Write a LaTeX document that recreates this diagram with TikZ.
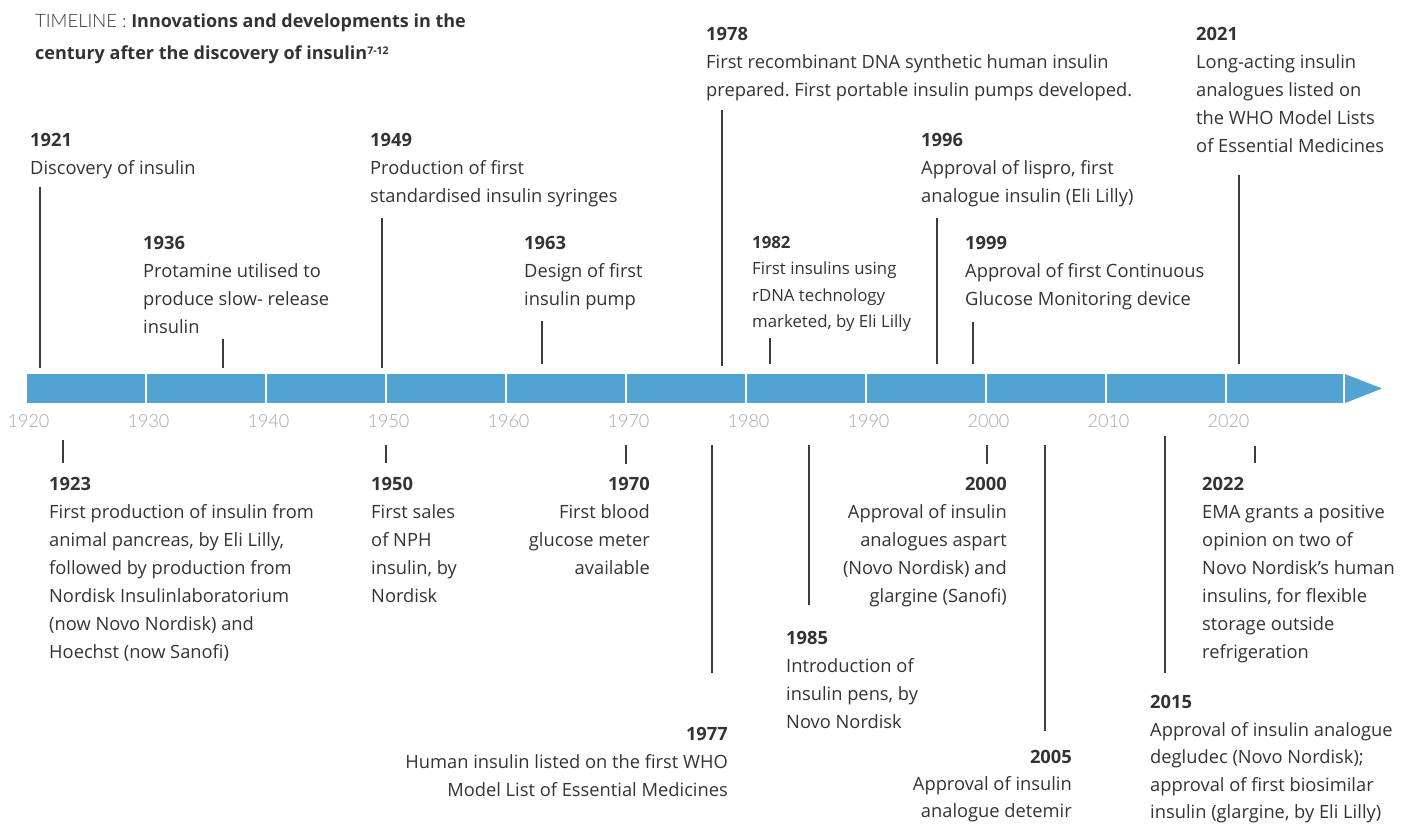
\documentclass[tikz,border=0pt]{standalone}
\usepackage{fontspec}
\setmainfont{Open Sans}
\newfontfamily\lightfont{Lato Light}
\usepackage{tikz}
\usetikzlibrary{positioning}
\frenchspacing
\definecolor{barblue}{RGB}{82,163,210}
\definecolor{txtgrey}{RGB}{51,51,51}
\definecolor{axisgrey}{RGB}{165,165,165}
\definecolor{tickgrey}{RGB}{60,60,60}
\tikzstyle{event} = [inner sep=0pt, align=left, anchor=north west, text=txtgrey, font=\fontsize{18.3}{28}\selectfont]
\tikzstyle{eventr} = [event, align=right, anchor=north east]
\tikzstyle{small} = [font=\fontsize{16.8}{26.5}\selectfont]
\tikzstyle{title} = [inner sep=0pt, align=left, anchor=north west, text=txtgrey, font=\fontsize{18}{32}\selectfont]
\tikzstyle{yearlab} = [inner sep=0pt, text=axisgrey, font=\lightfont\fontsize{18}{20}\selectfont]
\tikzstyle{seg} = [fill=barblue]
\tikzstyle{tick} = [draw=tickgrey, line width=1.1pt]

\begin{document}
\begin{tikzpicture}[x=1pt, y=-1pt]
        \useasboundingbox (0,0) rectangle (1407,823);

        % Title
        \node (title) [title] at (35,14) {{\lightfont\fontsize{18.5}{32}\selectfont TIMELINE :} \textbf{Innovations and developments in the}\\\textbf{century after the discovery of insulin}\raisebox{5.5pt}{\fontsize{10.5}{10.5}\selectfont\bfseries 7-12}};

        % Bar
        \fill[seg] (27,374) rectangle (145,403);
        \fill[seg] (147,374) rectangle (265,403);
        \fill[seg] (267,374) rectangle (385,403);
        \fill[seg] (387,374) rectangle (505,403);
        \fill[seg] (507,374) rectangle (625,403);
        \fill[seg] (627,374) rectangle (745,403);
        \fill[seg] (747,374) rectangle (865,403);
        \fill[seg] (867,374) rectangle (985,403);
        \fill[seg] (987,374) rectangle (1105,403);
        \fill[seg] (1107,374) rectangle (1225,403);
        \fill[seg] (1227,374) rectangle (1343,403);
        \fill[seg] (1345,374) -- (1382,388.5) -- (1345,403) -- cycle;

        % Decades
        \node (d1920) [yearlab] at (28.5,421) {1920};
        \node (d1930) [yearlab] at (148.5,421) {1930};
        \node (d1940) [yearlab] at (268.5,421) {1940};
        \node (d1950) [yearlab] at (388.5,421) {1950};
        \node (d1960) [yearlab] at (508.5,421) {1960};
        \node (d1970) [yearlab] at (628.5,421) {1970};
        \node (d1980) [yearlab] at (748.5,421) {1980};
        \node (d1990) [yearlab] at (868.5,421) {1990};
        \node (d2000) [yearlab] at (988.5,421) {2000};
        \node (d2010) [yearlab] at (1108.5,421) {2010};
        \node (d2020) [yearlab] at (1228.5,421) {2020};

        % Events above the bar
        \node (e1921) [event] at (30,133) {\textbf{1921}\\Discovery of insulin};
        \node (e1936) [event] at (143,236) {\textbf{1936}\\Protamine utilised to\\produce slow- release\\insulin};
        \node (e1949) [event] at (370,133) {\textbf{1949}\\Production of first\\standardised insulin syringes};
        \node (e1963) [event] at (524,236) {\textbf{1963}\\Design of first\\insulin pump};
        \node (e1978) [event] at (706,27) {\textbf{1978}\\First recombinant DNA synthetic human insulin\\prepared. First portable insulin pumps developed.};
        \node (e1982) [event, small] at (752,236) {\textbf{1982}\\First insulins using\\rDNA technology\\marketed, by Eli Lilly};
        \node (e1996) [event] at (921,133) {\textbf{1996}\\Approval of lispro, first\\analogue insulin (Eli Lilly)};
        \node (e1999) [event] at (965,236) {\textbf{1999}\\Approval of first Continuous\\Glucose Monitoring device};
        \node (e2021) [event] at (1196,27) {\textbf{2021}\\Long-acting insulin\\analogues listed on\\the WHO Model Lists\\of Essential Medicines};

        % Events below the bar
        \node (e1923) [event] at (49,477) {\textbf{1923}\\First production of insulin from\\animal pancreas, by Eli Lilly,\\followed by production from\\Nordisk Insulinlaboratorium\\(now Novo Nordisk) and\\Hoechst (now Sanofi)};
        \node (e1950) [event] at (371,477) {\textbf{1950}\\First sales\\of NPH\\insulin, by\\Nordisk};
        \node (e1970) [eventr] at (650,477) {\textbf{1970}\\First blood\\glucose meter\\available};
        \node (e1977) [eventr] at (728,727) {\textbf{1977}\\Human insulin listed on the first WHO\\Model List of Essential Medicines};
        \node (e1985) [event] at (786,631) {\textbf{1985}\\Introduction of\\insulin pens, by\\Novo Nordisk};
        \node (e2000) [eventr] at (1007,477) {\textbf{2000}\\Approval of insulin\\analogues aspart\\(Novo Nordisk) and\\glargine (Sanofi)};
        \node (e2005) [eventr, font=\fontsize{18.3}{27}\selectfont] at (1072,750) {\textbf{2005}\\Approval of insulin\\analogue detemir};
        \node (e2015) [event, font=\fontsize{18.3}{27.6}\selectfont] at (1150,695) {\textbf{2015}\\Approval of insulin analogue\\degludec (Novo Nordisk);\\approval of first biosimilar\\insulin (glargine, by Eli Lilly)};
        \node (e2022) [event] at (1202,477) {\textbf{2022}\\EMA grants a positive\\opinion on two of\\Novo Nordisk's human\\insulins, for flexible\\storage outside\\refrigeration};

        % Tick ends
        \coordinate (a1921) at (40,187);   \coordinate (b1921) at (40,368);
        \coordinate (a1936) at (223,339);  \coordinate (b1936) at (223,368);
        \coordinate (a1949) at (382,218);  \coordinate (b1949) at (382,368);
        \coordinate (a1963) at (542,321);  \coordinate (b1963) at (542,364);
        \coordinate (a1978) at (722,110);  \coordinate (b1978) at (722,366);
        \coordinate (a1982) at (770,338);  \coordinate (b1982) at (770,364);
        \coordinate (a1996) at (937,218);  \coordinate (b1996) at (937,364);
        \coordinate (a1999) at (973,322);  \coordinate (b1999) at (973,364);
        \coordinate (a2021) at (1239,175); \coordinate (b2021) at (1239,364);
        \coordinate (a1923) at (63,440);   \coordinate (b1923) at (63,463);
        \coordinate (a1950) at (386,445);  \coordinate (b1950) at (386,463);
        \coordinate (a1970) at (626,445);  \coordinate (b1970) at (626,464);
        \coordinate (a1977) at (712,445);  \coordinate (b1977) at (712,673);
        \coordinate (a1985) at (809,445);  \coordinate (b1985) at (809,605);
        \coordinate (a2000) at (987,445);  \coordinate (b2000) at (987,464);
        \coordinate (a2005) at (1045,445); \coordinate (b2005) at (1045,731);
        \coordinate (a2015) at (1165,436); \coordinate (b2015) at (1165,673);
        \coordinate (a2022) at (1255,446); \coordinate (b2022) at (1255,463);

        % Draw ticks
        \draw [tick] (a1921) -- (b1921);
        \draw [tick] (a1936) -- (b1936);
        \draw [tick] (a1949) -- (b1949);
        \draw [tick] (a1963) -- (b1963);
        \draw [tick] (a1978) -- (b1978);
        \draw [tick] (a1982) -- (b1982);
        \draw [tick] (a1996) -- (b1996);
        \draw [tick] (a1999) -- (b1999);
        \draw [tick] (a2021) -- (b2021);
        \draw [tick] (a1923) -- (b1923);
        \draw [tick] (a1950) -- (b1950);
        \draw [tick] (a1970) -- (b1970);
        \draw [tick] (a1977) -- (b1977);
        \draw [tick] (a1985) -- (b1985);
        \draw [tick] (a2000) -- (b2000);
        \draw [tick] (a2005) -- (b2005);
        \draw [tick] (a2015) -- (b2015);
        \draw [tick] (a2022) -- (b2022);

\end{tikzpicture}
\end{document}
